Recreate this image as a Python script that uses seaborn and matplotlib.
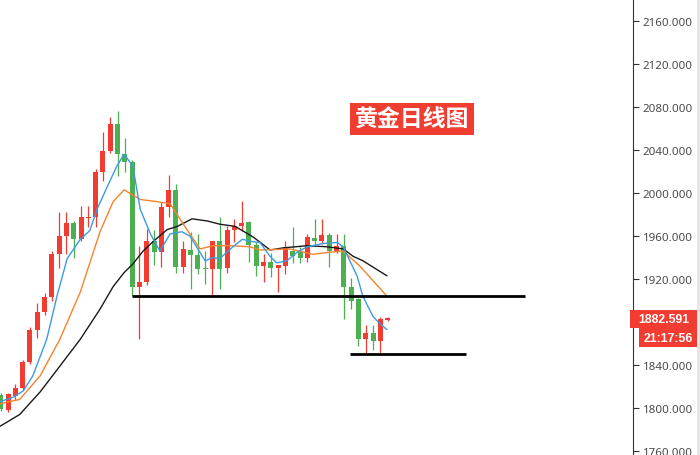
import numpy as np
import pandas as pd
import matplotlib
matplotlib.use("Agg")
import matplotlib.pyplot as plt
import matplotlib.transforms as mtransforms
from matplotlib.patches import Rectangle
import seaborn as sns

# daily candles (open, high, low, close)
opens = [1812, 1798, 1811, 1819, 1843, 1873, 1889, 1903, 1943, 1960,
         1972, 1957, 1977, 1978, 2020, 2039, 2064, 2036, 2029, 1913,
         1917, 1955, 1945, 1987, 2003, 1931, 1947, 1942, 1930, 1929,
         1955, 1930, 1966, 1969, 1973, 1952, 1932, 1936, 1930, 1932,
         1946, 1945, 1940, 1958, 1955, 1961, 1946, 1951, 1913, 1901,
         1864, 1870, 1862, 1882]
highs = [1814, 1814, 1822, 1845, 1875, 1898, 1907, 1946, 1982, 1982,
         1974, 1988, 1988, 2022, 2057, 2071, 2076, 2051, 2031, 1951,
         1967, 1966, 1992, 2017, 2008, 1955, 1964, 1962, 1946, 1955,
         1978, 1969, 1976, 1993, 1974, 1954, 1943, 1944, 1933, 1955,
         1968, 1950, 1962, 1976, 1976, 1963, 1962, 1962, 1921, 1902,
         1877, 1877, 1885, 1885]
lows = [1797, 1796, 1807, 1817, 1841, 1865, 1887, 1900, 1930, 1943,
        1940, 1955, 1968, 1968, 2011, 2037, 2016, 2020, 1904, 1864,
        1914, 1933, 1931, 1978, 1926, 1926, 1911, 1925, 1915, 1903,
        1911, 1926, 1954, 1965, 1936, 1923, 1917, 1922, 1908, 1925,
        1935, 1935, 1936, 1952, 1953, 1931, 1944, 1883, 1892, 1858,
        1850, 1854, 1849, 1881]
closes = [1799, 1813, 1819, 1843, 1873, 1889, 1903, 1943, 1960, 1972,
          1957, 1978, 1978, 2020, 2039, 2064, 2036, 2029, 1913, 1917,
          1955, 1945, 1987, 2003, 1931, 1948, 1942, 1929, 1929, 1955,
          1929, 1966, 1969, 1972, 1952, 1932, 1936, 1930, 1933, 1950,
          1941, 1940, 1959, 1955, 1961, 1946, 1951, 1913, 1900, 1864,
          1870, 1862, 1883, 1883.5]

# moving average lines, read as (candle position, price)
ma_fast_x = [-0.1, 1.7, 3.1, 4.4, 6.3, 7.7, 9.1, 10.9, 12.2, 13.2, 14.6, 15.9,
             16.9, 18.1, 19.1, 20.5, 21.8, 23.2, 24.8, 25.9, 27.0, 28.0, 29.1,
             30.0, 31.8, 33.1, 34.2, 35.5, 36.9, 37.8, 39.2, 40.6, 42.0, 44.1,
             46.1, 46.9, 48.8, 49.6, 51.0, 52.0, 52.9]
ma_fast_y = [1806, 1810, 1816, 1830, 1864, 1904, 1939, 1957, 1965, 1985, 2006,
             2025, 2036, 2025, 1985, 1962, 1946, 1962, 1964, 1960, 1948, 1937,
             1940, 1939, 1950, 1957, 1955, 1954, 1941, 1935, 1937, 1945, 1950,
             1953, 1954, 1950, 1923, 1904, 1885, 1878, 1873]
ma_mid_x = [-0.1, 2.6, 5.4, 8.1, 10.9, 13.6, 15.4, 16.9, 19.1, 21.4, 23.2,
            25.5, 27.3, 29.1, 31.4, 34.1, 35.5, 39.6, 42.8, 45.1, 46.9, 49.2,
            52.9]
ma_mid_y = [1804, 1808, 1830, 1864, 1908, 1964, 1992, 2003, 1994, 1992, 1990,
            1966, 1948, 1951, 1951, 1950, 1947, 1948, 1943, 1945, 1946, 1932,
            1904]
ma_slow_x = [-0.1, 2.6, 5.4, 8.1, 10.9, 13.6, 15.4, 16.9, 18.1, 19.5, 20.9,
             22.8, 24.2, 26.2, 28.3, 30.0, 32.1, 34.6, 36.9, 38.7, 42.0, 44.7,
             46.9, 48.3, 49.6, 52.9]
ma_slow_y = [1783, 1794, 1815, 1839, 1864, 1892, 1913, 1926, 1934, 1946, 1955,
             1966, 1969, 1976, 1974, 1971, 1969, 1959, 1947, 1949, 1951, 1950,
             1948, 1941, 1937, 1923]

# hand-drawn support levels (price, from candle, to candle)
support_price = [1904, 1850]
support_from = [18.0, 47.9]
support_to = [71.8, 63.7]

price_ticks = [1760, 1800, 1840, 1920, 1960, 2000, 2040, 2080, 2120, 2160]
last_price = 1882.591
last_time = "21:17:56"
title = "黄金日线图"

up_color = "#f23b31"
down_color = "#4caf50"

sns.set_theme(style="white")
plt.rcParams["font.family"] = ["Noto Sans", "Noto Sans CJK SC", "DejaVu Sans"]

df = pd.DataFrame({"open": opens, "high": highs, "low": lows, "close": closes})
df["i"] = np.arange(len(df))
df["color"] = np.where(df["close"] >= df["open"], up_color, down_color)
df["bottom"] = df[["open", "close"]].min(axis=1)
df["height"] = (df["close"] - df["open"]).abs().clip(lower=1.0)

fig = plt.figure(figsize=(7, 4.56), dpi=100)
ax = fig.add_axes([0, 0, 633 / 700, 1])

# wicks and bodies
ax.vlines(df["i"], df["low"], df["high"], colors=df["color"], lw=0.9, zorder=2)
ax.bar(df["i"], df["height"], bottom=df["bottom"], width=0.68,
       color=df["color"], linewidth=0, zorder=3)

# moving averages
sns.lineplot(x=ma_slow_x, y=ma_slow_y, ax=ax, color="#1a1a1a", lw=1.0,
             sort=False, estimator=None, zorder=4)
sns.lineplot(x=ma_mid_x, y=ma_mid_y, ax=ax, color="#f5842c", lw=1.0,
             sort=False, estimator=None, zorder=4)
sns.lineplot(x=ma_fast_x, y=ma_fast_y, ax=ax, color="#3d9be0", lw=1.0,
             sort=False, estimator=None, zorder=4)

# support lines
ax.hlines(support_price, support_from, support_to, colors="black", lw=2.0, zorder=5)

ax.set_xlim(-0.1, 86.6)
ax.set_ylim(1756.3, 2180.5)

for side in ["top", "left", "bottom"]:
    ax.spines[side].set_visible(False)
ax.spines["right"].set_color("#333333")
ax.spines["right"].set_linewidth(0.8)
ax.set_xticks([])
ax.yaxis.tick_right()
ax.set_yticks(price_ticks)
ax.set_yticklabels([f"{t:.3f}" for t in price_ticks])
ax.tick_params(axis="y", direction="out", length=4, width=0.8, color="#333333",
               labelsize=8.3, labelcolor="#4a4a4a", pad=3)
for lbl in ax.get_yticklabels():
    lbl.set_va("center_baseline")
ax.set_xlabel("")
ax.set_ylabel("")

# title tag
ax.text(0.651, 0.737, title, transform=ax.transAxes, ha="center", va="center",
        fontsize=16.5, fontweight="bold", color="white",
        family=["Noto Sans CJK SC", "DejaVu Sans"],
        bbox=dict(boxstyle="square,pad=0.2", fc="#ef3d31", ec="none"))

# last price tag on the axis
blend = mtransforms.blended_transform_factory(ax.transAxes, ax.transData)
tag_font = dict(fontsize=8.8, fontweight="bold", color="white",
                family=["Liberation Sans", "DejaVu Sans"], ha="center", va="center",
                transform=blend, clip_on=False, zorder=10)
ax.add_patch(Rectangle((630 / 633, last_price - 8.4), 68 / 633, 16.8,
                       transform=blend, fc="#f23b31", ec="none", clip_on=False,
                       zorder=9))
ax.text(664 / 633, last_price, f"{last_price:.3f}", **tag_font)
ax.add_patch(Rectangle((639 / 633, last_price - 26.0), 58 / 633, 17.6,
                       transform=blend, fc="#f23b31", ec="none", clip_on=False,
                       zorder=9))
ax.text(668 / 633, last_price - 17.2, last_time, **tag_font)

# thin grey edge on the far right
fig.patches.append(Rectangle((697 / 700, 0), 3 / 700, 1, transform=fig.transFigure,
                             fc="#e6e6e6", ec="none"))

fig.savefig("out.png", dpi=100)
